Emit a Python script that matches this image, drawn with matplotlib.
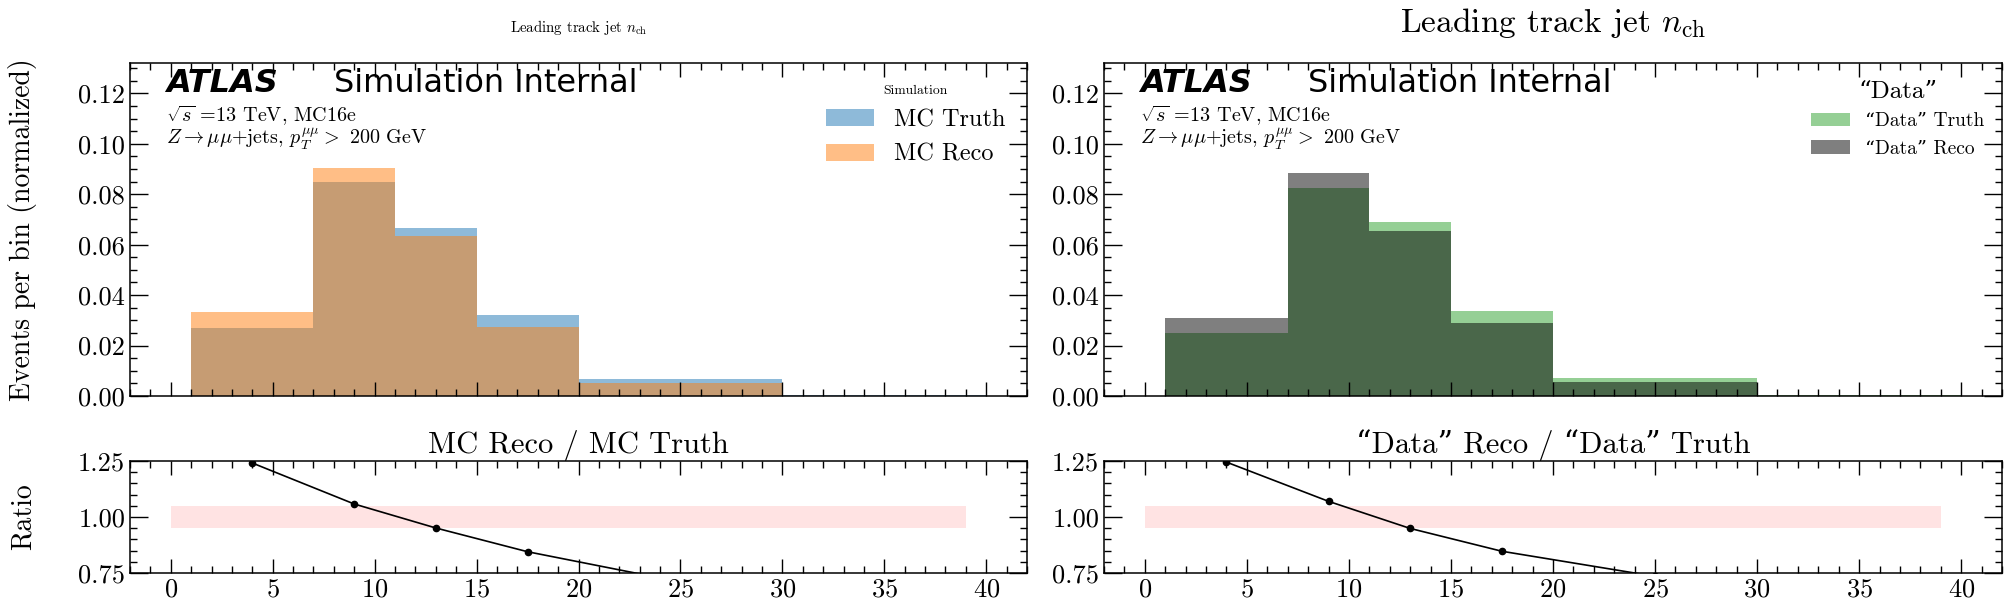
import matplotlib
matplotlib.use("Agg")
import matplotlib.pyplot as plt
import numpy as np
from matplotlib.ticker import MultipleLocator, FormatStrFormatter

# ---------------- data ----------------
bin_edges = [1, 7, 11, 15, 20, 30, 40]

mc_truth = [0.0269, 0.0850, 0.0665, 0.0322, 0.0069, 0.0003]
mc_reco = [0.0334, 0.0902, 0.0633, 0.0275, 0.0051, 0.00005]

data_truth = [0.0249, 0.0823, 0.0689, 0.0338, 0.0073, 0.0003]
data_reco = [0.0310, 0.0882, 0.0653, 0.0289, 0.0055, 0.00005]

mc_ratio = [1.241, 1.058, 0.951, 0.845, 0.710, 0.30]
mc_ratio_err = [0.006, 0.004, 0.004, 0.006, 0.012, 0.05]
data_ratio = [1.245, 1.070, 0.949, 0.847, 0.735, 0.30]
data_ratio_err = [0.006, 0.005, 0.006, 0.006, 0.012, 0.05]

band_x = [0, 39]
band_lo, band_hi = 0.95, 1.05

# ---------------- style ----------------
plt.rcParams["font.family"] = ["cmr10", "DejaVu Serif"]
plt.rcParams["mathtext.fontset"] = "cm"
plt.rcParams["axes.formatter.use_mathtext"] = True
plt.rcParams["axes.unicode_minus"] = False

fig = plt.figure(figsize=(20.11, 6.11), dpi=100)
W, H = 2011.0, 611.0


def box(x0, x1, ytop, ybot):
    return [x0 / W, (H - ybot) / H, (x1 - x0) / W, (ybot - ytop) / H]


ax_l = fig.add_axes(box(130, 1027, 63, 396))
ax_lr = fig.add_axes(box(130, 1027, 461, 573))
ax_r = fig.add_axes(box(1104, 2002, 63, 396))
ax_rr = fig.add_axes(box(1104, 2002, 461, 573))

edges = np.array(bin_edges, dtype=float)
centers = 0.5 * (edges[:-1] + edges[1:])


def style_axes(ax, main=True):
    ax.set_xlim(-2, 42)
    ax.xaxis.set_major_locator(MultipleLocator(5))
    ax.xaxis.set_minor_locator(MultipleLocator(1))
    if main:
        ax.set_ylim(0, 0.132)
        ax.yaxis.set_major_locator(MultipleLocator(0.02))
        ax.yaxis.set_minor_locator(MultipleLocator(0.005))
        ax.yaxis.set_major_formatter(FormatStrFormatter("%.2f"))
    else:
        ax.set_ylim(0.75, 1.25)
        ax.yaxis.set_major_locator(MultipleLocator(0.25))
        ax.yaxis.set_minor_locator(MultipleLocator(0.05))
        ax.yaxis.set_major_formatter(FormatStrFormatter("%.2f"))
    ax.tick_params(axis="both", which="both", direction="in", top=True, right=True, width=1.0)
    ax.tick_params(axis="x", which="major", length=10)
    ax.tick_params(axis="y", which="major", length=13)
    ax.tick_params(axis="both", which="minor", length=5)
    ax.tick_params(axis="both", which="major", labelsize=19)
    if main:
        ax.tick_params(axis="x", labelbottom=False)
    for s in ax.spines.values():
        s.set_linewidth(1.1)


def atlas_label(ax):
    ax.text(0.040, 0.913, "ATLAS", transform=ax.transAxes, fontsize=23,
            fontweight="bold", fontstyle="italic", family="DejaVu Sans", va="baseline")
    ax.text(0.2274, 0.913, "Simulation Internal", transform=ax.transAxes, fontsize=23,
            family="DejaVu Sans", va="baseline")
    ax.text(0.040, 0.826, r"$\sqrt{s}$ =13 TeV, MC16e", transform=ax.transAxes,
            fontsize=14.5, va="baseline")
    ax.text(0.040, 0.754, r"$Z\rightarrow\mu\mu$+jets, $p_T^{\mu\mu}>$ 200 GeV",
            transform=ax.transAxes, fontsize=14.5, va="baseline")


# ---------------- left panel ----------------
ax_l.stairs(mc_truth, edges, fill=True, color="tab:blue", alpha=0.5, label="MC Truth")
ax_l.stairs(mc_reco, edges, fill=True, color="tab:orange", alpha=0.5, label="MC Reco")
style_axes(ax_l, True)
atlas_label(ax_l)
ax_l.set_title(r"Leading track jet $n_{\mathrm{ch}}$", fontsize=10.7, pad=22)
ax_l.set_ylabel("Events per bin (normalized)", fontsize=20)
ax_l.yaxis.set_label_coords(-0.104, 0.5)
ax_l.legend(loc="upper right", frameon=False, fontsize=17.5, title="Simulation",
            title_fontsize=9.8, handlelength=2.0)

ax_lr.fill_between(band_x, band_lo, band_hi, color="red", alpha=0.11, lw=0)
ax_lr.errorbar(centers, mc_ratio, yerr=mc_ratio_err, fmt="o-", color="black",
               markersize=4.5, lw=1.2, elinewidth=1.2, capsize=0)
style_axes(ax_lr, False)
ax_lr.set_title("MC Reco / MC Truth", fontsize=22, pad=6)
ax_lr.set_ylabel("Ratio", fontsize=20)
ax_lr.yaxis.set_label_coords(-0.104, 0.5)

# ---------------- right panel ----------------
ax_r.stairs(data_truth, edges, fill=True, color="tab:green", alpha=0.5, label="\u201cData\u201d Truth")
ax_r.stairs(data_reco, edges, fill=True, color="black", alpha=0.5, label="\u201cData\u201d Reco")
style_axes(ax_r, True)
atlas_label(ax_r)
ax_r.set_title(r"Leading track jet $n_{\mathrm{ch}}$", fontsize=24, pad=22)
ax_r.legend(loc="upper right", frameon=False, fontsize=14, title="\u201cData\u201d",
            title_fontsize=18)

ax_rr.fill_between(band_x, band_lo, band_hi, color="red", alpha=0.11, lw=0)
ax_rr.errorbar(centers, data_ratio, yerr=data_ratio_err, fmt="o-", color="black",
               markersize=4.5, lw=1.2, elinewidth=1.2, capsize=0)
style_axes(ax_rr, False)
ax_rr.set_title("\u201cData\u201d Reco / \u201cData\u201d Truth", fontsize=22, pad=6)

fig.savefig("out.png", dpi=100)
